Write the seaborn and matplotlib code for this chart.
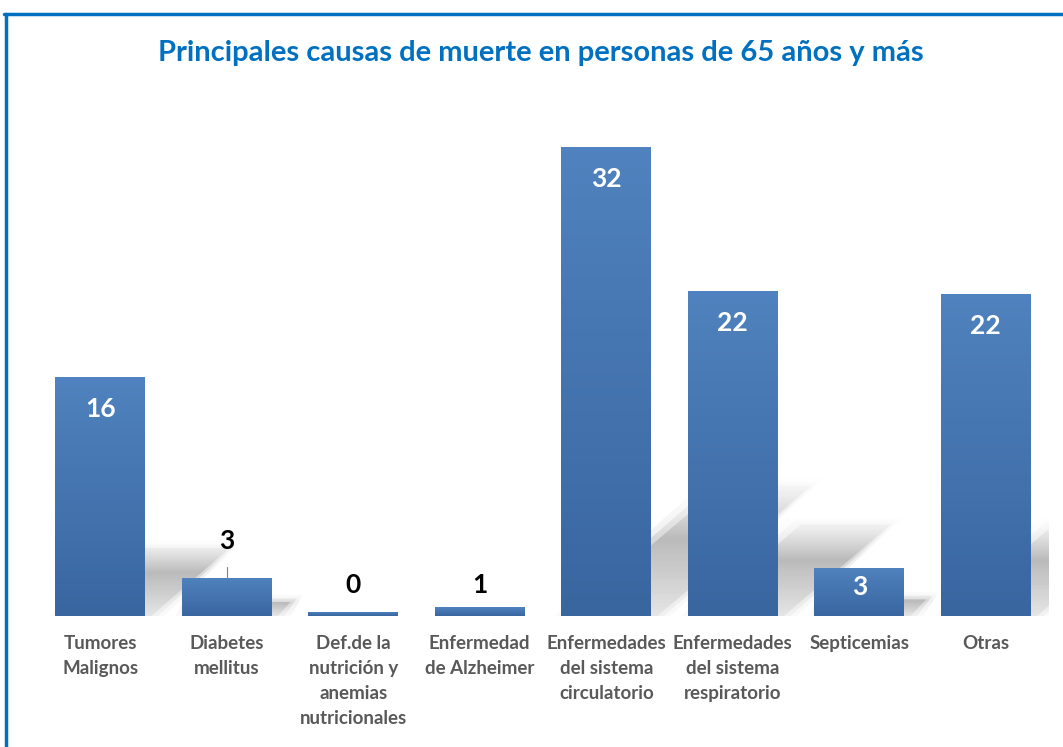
import numpy as np
import pandas as pd
import matplotlib
matplotlib.use("Agg")
import matplotlib.pyplot as plt
import seaborn as sns
from matplotlib.lines import Line2D
from matplotlib.patches import Polygon

# Data (heights, labels are rounded)
causas = [
    "Tumores\nMalignos",
    "Diabetes\nmellitus",
    "Def.de la\nnutrición y\nanemias\nnutricionales",
    "Enfermedad\nde Alzheimer",
    "Enfermedades\ndel sistema\ncirculatorio",
    "Enfermedades\ndel sistema\nrespiratorio",
    "Septicemias",
    "Otras",
]
porcentaje = [16.3, 2.6, 0.3, 0.6, 32.0, 22.2, 3.3, 22.0]
etiquetas = ["16", "3", "0", "1", "32", "22", "3", "22"]
dentro = [True, False, False, False, True, True, True, True]

titulo = "Principales causas de muerte en personas de 65 años y más"
AZUL = "#0070C0"

sns.set_theme(style="white")
plt.rcParams['font.family'] = ['Lato', 'DejaVu Sans']

df = pd.DataFrame({"causa": causas, "valor": porcentaje})

fig = plt.figure(figsize=(10.63, 7.47), dpi=100)
W, H = 1063, 747
ax = fig.add_axes([37 / W, 1 - 616 / H, (1049 - 37) / W, (616 - 100) / H])

sns.barplot(data=df, x="causa", y="valor", color="#4A7AB5", width=0.71,
            ax=ax, zorder=3)

# gradient fill + soft shadows behind the bars
grad = np.linspace(0, 1, 64).reshape(-1, 1)
cmap = matplotlib.colors.LinearSegmentedColormap.from_list(
    "barra", ["#3A66A0", "#4F82BE"])
shade = matplotlib.colors.LinearSegmentedColormap.from_list(
    "sombra", [(0.0, (0.6, 0.6, 0.6, 0.25)), (0.55, (0.55, 0.55, 0.55, 0.7)),
               (1.0, (0.75, 0.75, 0.75, 0.0))])
for p in ax.patches:
    x0, w, h = p.get_x(), p.get_width(), p.get_height()
    p.set_edgecolor("none")
    im = ax.imshow(grad, extent=[x0, x0 + w, 0, h], origin="lower",
                   cmap=cmap, aspect="auto", zorder=4)
    im.set_clip_path(p)
    dx, dy = 0.038 * h, 0.27 * h
    if h > 1:
        for k, a in enumerate([1.0, 0.6, 0.35]):
            s = 0.05 * (k + 1)
            poly = Polygon([(x0 + 0.1 - s, 0), (x0 + w + s, 0),
                            (x0 + w + dx + s, dy + s * 5), (x0 + 0.1 + dx - s, dy + s * 5)],
                           closed=True, facecolor="none", edgecolor="none")
            ax.add_patch(poly)
            sim = ax.imshow(grad, extent=[x0 - 0.3, x0 + w + dx + 0.5, 0, dy + 1],
                            origin="lower", cmap=shade, aspect="auto",
                            zorder=1, alpha=0.55 * a)
            sim.set_clip_path(poly)
ax.set_xlim(-0.5, len(causas) - 0.5)
ax.set_ylim(0, 35.2)

# value labels
for i, (v, t, inside) in enumerate(zip(porcentaje, etiquetas, dentro)):
    if inside:
        ypos = v - 2.2 if v > 5 else v - 1.3
        ax.text(i, ypos, t, ha="center", va="center", color="white",
                fontsize=19, fontweight="bold", zorder=6)
    elif t == "3":
        ax.text(i, v + 2.5, t, ha="center", va="center", color="black",
                fontsize=19, fontweight="bold", zorder=6)
        ax.plot([i, i], [v, v + 0.75], color="#808080", lw=0.8, zorder=6)
    else:
        ax.text(i, 2.1, t, ha="center", va="center", color="black",
                fontsize=19, fontweight="bold", zorder=6)

ax.set_xlabel("")
ax.set_ylabel("")
ax.set_yticks([])
ax.tick_params(axis="x", length=0, pad=14)
for lab in ax.get_xticklabels():
    lab.set_fontsize(13.5)
    lab.set_fontweight("bold")
    lab.set_color("#595959")
    lab.set_linespacing(1.55)
    lab.set_va("top")
sns.despine(ax=ax, left=True, bottom=True)

fig.text(541 / W, 1 - 53 / H, titulo, ha="center", va="center",
         color=AZUL, fontsize=21, fontweight="bold")

# blue frame (top and left edges visible in the crop)
fig.add_artist(Line2D([4 / W, 1], [1 - 14 / H, 1 - 14 / H], color=AZUL, lw=2.5,
                      transform=fig.transFigure))
fig.add_artist(Line2D([6 / W, 6 / W], [1 - 14 / H, 0], color=AZUL, lw=2.5,
                      transform=fig.transFigure))

fig.savefig("out.png", dpi=100)
